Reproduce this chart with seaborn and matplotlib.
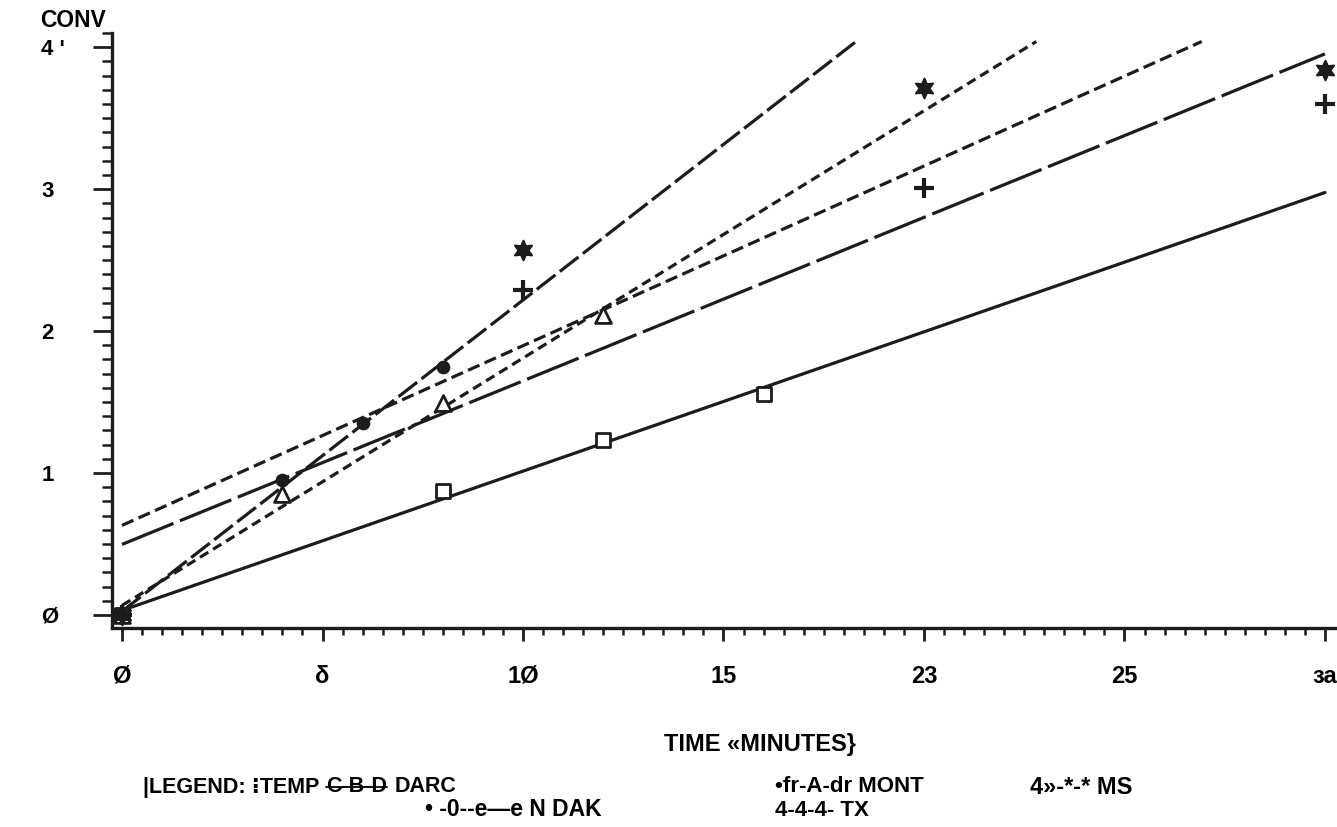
import numpy as np
import pandas as pd
import matplotlib
matplotlib.use("Agg")
import matplotlib.pyplot as plt
import seaborn as sns
from matplotlib.ticker import MultipleLocator
from matplotlib.lines import Line2D

# ---------------- data ----------------
darc_t = [0, 8, 12, 16]
darc_conv = [0.0, 0.87, 1.23, 1.56]
ndak_t = [0, 4, 6, 8]
ndak_conv = [0.0, 0.95, 1.35, 1.75]
mont_t = [0, 4, 8, 12]
mont_conv = [0.0, 0.85, 1.49, 2.11]
ms_t = [0, 10, 20, 30]
ms_conv = [0.0, 2.57, 3.71, 3.84]
tx_t = [0, 10, 20, 30]
tx_conv = [0.0, 2.29, 3.01, 3.60]

series_names = ["DARC", "N DAK", "MONT", "MS", "TX"]
x_ticks = [0, 5, 10, 15, 20, 25, 30]
x_tick_labels = ["Ø", "δ", "1Ø", "15", "23", "25", "за"]
y_ticks = [0, 1, 2, 3, 4]
y_tick_labels = ["Ø", "1", "2", "3", "4 '"]

# ---------------- style ----------------
sns.set_style("ticks")
plt.rcParams["font.family"] = ["Liberation Sans", "DejaVu Sans"]
plt.rcParams["font.weight"] = "bold"
plt.rcParams["text.color"] = "black"
plt.rcParams["xtick.color"] = "black"
plt.rcParams["ytick.color"] = "black"
plt.rcParams["axes.labelcolor"] = "black"
plt.rcParams["lines.scale_dashes"] = False
INK = "#1c1c1c"

W, H = 1337, 827
fig = plt.figure(figsize=(W / 100, H / 100), dpi=100)
fig.patch.set_facecolor("white")
ax = fig.add_axes([112 / W, 199 / H, 1225 / W, 595 / H])

data = {
    "DARC": (darc_t, darc_conv),
    "N DAK": (ndak_t, ndak_conv),
    "MONT": (mont_t, mont_conv),
    "MS": (ms_t, ms_conv),
    "TX": (tx_t, tx_conv),
}

# regression lines (least squares per series), clipped at the top of the frame
Y_CLIP = 4.04
rows = []
for name in series_names:
    t, c = data[name]
    m, b = np.polyfit(np.asarray(t, float), np.asarray(c, float), 1)
    x_end = min(30.0, (Y_CLIP - b) / m)
    xs = np.linspace(0, x_end, 50)
    for xv in xs:
        rows.append({"state": name, "t": xv, "conv": b + m * xv})
line_df = pd.DataFrame(rows)

dash_map = {
    "DARC": "",
    "N DAK": (17, 4),
    "MONT": (7, 4),
    "MS": (9, 4),
    "TX": (40, 5),
}
sns.lineplot(data=line_df, x="t", y="conv", style="state", dashes=dash_map,
             color=INK, linewidth=2.3, legend=False, estimator=None,
             sort=False, ax=ax)

# markers
sns.scatterplot(x=darc_t, y=darc_conv, marker="s", s=110, facecolor="white",
                edgecolor=INK, linewidth=2.0, ax=ax, zorder=4)
sns.scatterplot(x=ndak_t, y=ndak_conv, marker="o", s=70, color=INK,
                edgecolor=INK, linewidth=1.5, ax=ax, zorder=4)
sns.scatterplot(x=mont_t, y=mont_conv, marker="^", s=130, facecolor="white",
                edgecolor=INK, linewidth=2.0, ax=ax, zorder=4)
sns.scatterplot(x=ms_t, y=ms_conv, marker=(6, 1, 0), s=200, color=INK,
                edgecolor=INK, linewidth=1.5, ax=ax, zorder=4)
sns.scatterplot(x=tx_t, y=tx_conv, marker="+", s=200, color=INK,
                linewidth=3.0, ax=ax, zorder=4)

# ---------------- axes ----------------
ax.set_xlim(-0.25, 30.3)
ax.set_ylim(-0.092, 4.10)
for side in ("top", "right"):
    ax.spines[side].set_visible(False)
for side in ("left", "bottom"):
    ax.spines[side].set_linewidth(2.4)
    ax.spines[side].set_color(INK)

ax.set_xticks(x_ticks, x_tick_labels)
ax.set_yticks(y_ticks, y_tick_labels)
ax.xaxis.set_minor_locator(MultipleLocator(0.5))
ax.yaxis.set_minor_locator(MultipleLocator(0.1))
ax.tick_params(axis="x", which="both", bottom=True, top=False)
ax.tick_params(axis="y", which="both", left=True, right=False)
ax.tick_params(axis="x", which="major", direction="out", length=9.5, width=2.0,
               color=INK, pad=17, labelsize=17, labelcolor="black")
ax.tick_params(axis="x", which="minor", direction="out", length=5, width=1.8,
               color=INK)
ax.tick_params(axis="y", which="major", direction="out", length=14, width=2.0,
               color=INK, pad=37, labelsize=16, labelcolor="black")
ax.tick_params(axis="y", which="minor", direction="out", length=7, width=1.8,
               color=INK)
for lab in ax.get_yticklabels():
    lab.set_horizontalalignment("left")
    lab.set_fontweight("bold")
for lab in ax.get_xticklabels():
    lab.set_fontweight("bold")
ax.grid(False)

ax.set_xlabel("TIME «MINUTES}", fontsize=17, fontweight="bold", color="black")
ax.xaxis.set_label_coords((760 - 112) / 1225, (628 - 733) / 595)
ax.set_ylabel("CONV", fontsize=16.5, fontweight="bold", rotation=0,
              ha="left", va="center", color="black")
ax.yaxis.set_label_coords((40 - 112) / 1225, (628 - 20) / 595)

# ---------------- legend text (as printed) ----------------
def ftext(px, py, s, size=16, **kw):
    return fig.text(px / W, 1 - py / H, s, ha="left", va="center",
                    fontsize=size, fontweight="bold", color="black", **kw)

renderer = fig.canvas.get_renderer()
t1 = ftext(143, 787, "|LEGEND: ⁝TEMP", size=15.5)
bb1 = t1.get_window_extent(renderer)
t2 = ftext(bb1.x1 + 7, 787, "C-B-D", size=15.5)
bb2 = t2.get_window_extent(renderer)
ymid = (bb2.y0 + bb2.y1) / 2 / H
fig.add_artist(Line2D([bb2.x0 / W, bb2.x1 / W], [ymid, ymid],
                      color="black", lw=1.3))
ftext(bb2.x1 + 7, 787, "DARC", size=15.5)
ftext(775, 787, "•fr-A-dr MONT")
ftext(1030, 787, "4»-*-* MS", size=17)
ftext(425, 810, "• -0--e—e N DAK", size=16.5)
ftext(775, 810, "4-4-4- TX")

fig.savefig("out.png", dpi=100, facecolor="white")
